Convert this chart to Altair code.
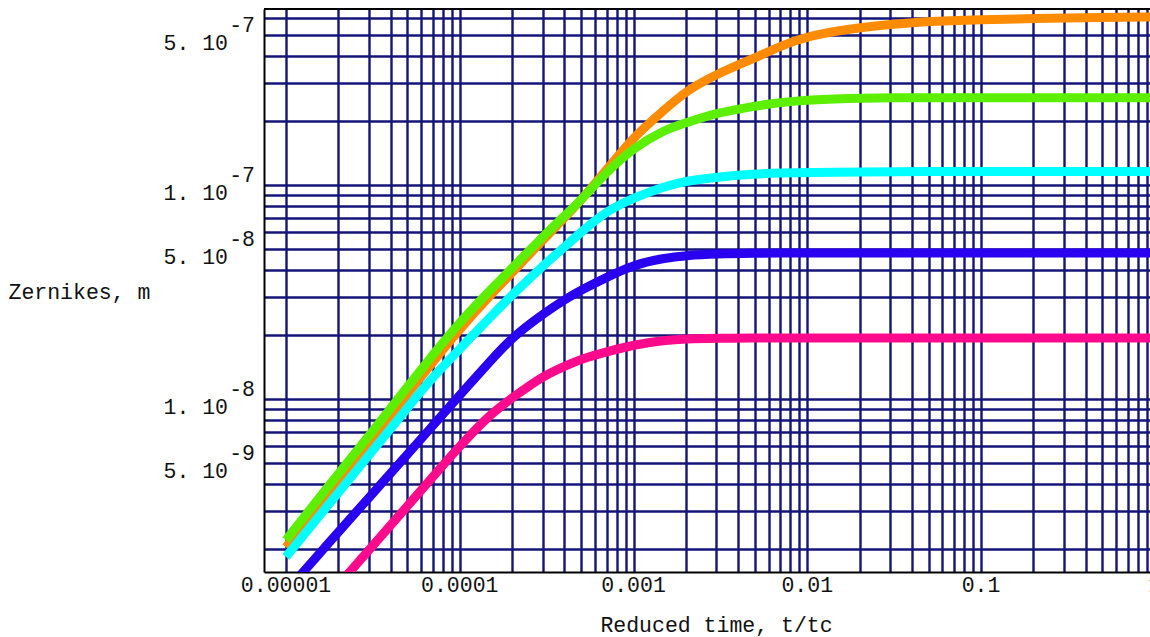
import altair as alt
import pandas as pd

# Reduced time t/tc at which the curves are sampled
t = [1e-5, 1.5e-5, 2e-5, 3e-5, 5e-5, 7e-5, 1e-4, 1.5e-4, 2e-4, 3e-4, 4e-4, 5e-4, 7e-4,
     1e-3, 1.5e-3, 2e-3, 3e-3, 5e-3, 7e-3, 1e-2, 2e-2, 5e-2, 0.1, 0.2, 0.5, 1.0]

# Zernike amplitudes in metres, one list per mode
orange = [2.03e-9, 3.10e-9, 4.14e-9, 6.23e-9, 1.055e-8, 1.49e-8, 2.12e-8, 3.06e-8, 3.88e-8,
          5.53e-8, 7.01e-8, 8.51e-8, 1.175e-7, 1.68e-7, 2.24e-7, 2.75e-7, 3.30e-7, 3.92e-7,
          4.46e-7, 4.97e-7, 5.47e-7, 5.84e-7, 5.93e-7, 6.00e-7, 6.06e-7, 6.10e-7]
green = [2.19e-9, 3.34e-9, 4.46e-9, 6.72e-9, 1.14e-8, 1.61e-8, 2.29e-8, 3.23e-8, 4.09e-8,
         5.72e-8, 7.16e-8, 8.51e-8, 1.15e-7, 1.49e-7, 1.81e-7, 1.95e-7, 2.17e-7, 2.34e-7,
         2.43e-7, 2.50e-7, 2.55e-7, 2.56e-7, 2.56e-7, 2.56e-7, 2.56e-7, 2.56e-7]
cyan = [1.83e-9, 2.75e-9, 3.64e-9, 5.47e-9, 9.08e-9, 1.27e-8, 1.71e-8, 2.42e-8, 3.06e-8,
        4.18e-8, 5.13e-8, 6.03e-8, 7.56e-8, 8.70e-8, 9.84e-8, 1.044e-7, 1.09e-7, 1.126e-7,
        1.138e-7, 1.144e-7, 1.15e-7, 1.156e-7, 1.156e-7, 1.156e-7, 1.156e-7, 1.156e-7]
blue = [1.26e-9, 1.83e-9, 2.39e-9, 3.46e-9, 5.51e-9, 7.51e-9, 1.042e-8, 1.505e-8, 1.94e-8,
        2.49e-8, 2.91e-8, 3.23e-8, 3.70e-8, 4.24e-8, 4.56e-8, 4.68e-8, 4.76e-8, 4.80e-8,
        4.81e-8, 4.81e-8, 4.81e-8, 4.81e-8, 4.81e-8, 4.81e-8, 4.81e-8, 4.81e-8]
magenta = [7.04e-10, 1.03e-9, 1.35e-9, 1.97e-9, 3.16e-9, 4.33e-9, 6.03e-9, 8.51e-9, 1.011e-8,
           1.28e-8, 1.42e-8, 1.54e-8, 1.66e-8, 1.79e-8, 1.88e-8, 1.91e-8, 1.92e-8, 1.93e-8,
           1.93e-8, 1.93e-8, 1.93e-8, 1.93e-8, 1.93e-8, 1.93e-8, 1.93e-8, 1.93e-8]

modes = ["a", "b", "c", "d", "e"]
mode_colors = ["#ff8c00", "#5cf000", "#00ffff", "#2a00f0", "#ff0a8c"]

# Axis tick labels
x_ticks = [1e-5, 1e-4, 1e-3, 1e-2, 1e-1, 1.0]
x_tick_text = ["0.00001", "0.0001", "0.001", "0.01", "0.1", "1"]
y_ticks = [5e-7, 1e-7, 5e-8, 1e-8, 5e-9]
y_tick_mant = ["5. 10", "1. 10", "5. 10", "1. 10", "5. 10"]
y_tick_exp = ["-7", "-7", "-8", "-8", "-9"]

# grid lines at every 1..9 x 10^n
x_grid = [k * 10.0 ** n for n in range(-5, 0) for k in range(1, 10)]
y_grid = [k * 10.0 ** n for n in (-9, -8, -7) for k in range(1, 10)]
y_grid = [v for v in y_grid if 1.6e-9 < v < 6.6e-7]

W, H = 886, 563
FONT = "Liberation Mono"
FS = 21.5
GRID = "#141478"

xscale = alt.Scale(type="log", domain=[7.468e-6, 0.939], nice=False)
yscale = alt.Scale(type="log", domain=[1.554e-9, 6.645e-7], nice=False)

xaxis = alt.Axis(values=x_grid, grid=True, gridColor=GRID, gridWidth=2.4, gridOpacity=1,
                 labels=False, ticks=False, domain=True, domainColor="black", domainWidth=2,
                 title="Reduced time, t/tc", titleFont=FONT, titleFontSize=FS,
                 titleFontWeight="normal", titleColor="#111", titleX=452, titleY=53,
                 titleAlign="center", titleBaseline="middle")
yaxis = alt.Axis(values=y_grid, grid=True, gridColor=GRID, gridWidth=2.4, gridOpacity=1,
                 labels=False, ticks=False, domain=True, domainColor="black", domainWidth=2,
                 title="Zernikes, m", titleFont=FONT, titleFontSize=FS,
                 titleFontWeight="normal", titleColor="#111", titleAngle=0,
                 titleX=-256, titleY=283, titleAlign="left", titleBaseline="middle")

rows = []
for name, vals in zip(modes, [orange, green, cyan, blue, magenta]):
    for ti, v in zip(t, vals):
        rows.append({"t": ti, "z": v, "mode": name})
df = pd.DataFrame(rows)

lines = alt.Chart(df).mark_line(strokeWidth=9, clip=True, interpolate="basis").encode(
    x=alt.X("t:Q", scale=xscale, axis=xaxis),
    y=alt.Y("z:Q", scale=yscale, axis=yaxis),
    color=alt.Color("mode:N", scale=alt.Scale(domain=modes, range=mode_colors), legend=None),
    order=alt.Order("t:Q"),
)

xlab = alt.Chart(pd.DataFrame({"t": x_ticks, "s": x_tick_text})).mark_text(
    font=FONT, fontSize=FS, color="#111", baseline="middle", align="center"
).encode(x=alt.X("t:Q", scale=xscale), y=alt.value(H + 14), text="s:N")

ylab = pd.DataFrame({"z": y_ticks, "m": y_tick_mant, "e": y_tick_exp})
ymant = alt.Chart(ylab).mark_text(
    font=FONT, fontSize=FS, color="#111", baseline="middle", align="right", dy=9
).encode(y=alt.Y("z:Q", scale=yscale), x=alt.value(-36), text="m:N")
yexp = alt.Chart(ylab).mark_text(
    font=FONT, fontSize=FS, color="#111", baseline="middle", align="right", dy=-9
).encode(y=alt.Y("z:Q", scale=yscale), x=alt.value(-9), text="e:N")

top = alt.Chart(pd.DataFrame({"a": [0]})).mark_rule(color="black", strokeWidth=2).encode(
    x=alt.value(0), x2=alt.value(W), y=alt.value(0)
)

chart = alt.layer(lines, top, xlab, ymant, yexp).properties(
    width=W, height=H,
    autosize=alt.AutoSizeParams(type="none"),
    padding={"left": 264, "top": 9, "right": 0, "bottom": 65},
    background="white",
).configure_view(strokeWidth=0)

chart.save("out.html", embed_options={"renderer": "svg", "actions": False})
